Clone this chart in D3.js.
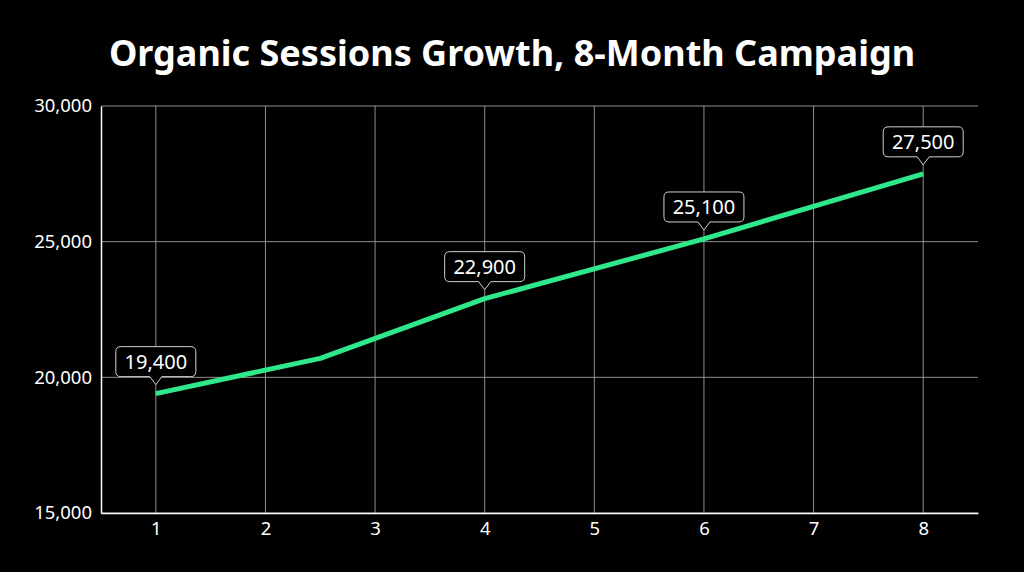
<!DOCTYPE html>
<html>
<head>
<meta charset="utf-8">
<script src="https://cdn.jsdelivr.net/npm/d3@7"></script>
<style>
  html, body { margin: 0; padding: 0; background: #000; }
  svg { display: block; }
</style>
</head>
<body>
<div id="chart"></div>
<script>
// data
const months = [1, 2.5, 4, 6, 8];
const sessions = [19400, 20700, 22900, 25100, 27500];
const labelled = [1, 4, 6, 8];
const xTicks = [1, 2, 3, 4, 5, 6, 7, 8];
const yTicks = [15000, 20000, 25000, 30000];
const title = 'Organic Sessions Growth, 8-Month Campaign';

const width = 1024;
const height = 572;
const margin = { top: 106, right: 46, bottom: 59, left: 101 };
const font = '"Noto Sans", "Open Sans", sans-serif';

const svg = d3.select('#chart')
  .append('svg')
  .attr('width', width)
  .attr('height', height)
  .style('background', '#000');

// scales
const x = d3.scaleLinear()
  .domain([0.5, 8.5])
  .range([margin.left, width - margin.right]);

const y = d3.scaleLinear()
  .domain([15000, 30000])
  .range([height - margin.bottom, margin.top]);

// title
svg.append('text')
  .attr('x', width / 2)
  .attr('y', 66)
  .attr('text-anchor', 'middle')
  .style('font-family', font)
  .style('font-weight', 'bold')
  .style('font-size', '36px')
  .style('fill', '#fff')
  .text(title);

// grid lines
const grid = svg.append('g');
grid.selectAll('.vgrid')
  .data(xTicks)
  .enter()
  .append('line')
  .attr('x1', d => x(d))
  .attr('x2', d => x(d))
  .attr('y1', y(30000))
  .attr('y2', y(15000))
  .attr('stroke', '#8f8f8f')
  .attr('stroke-width', 1);

grid.selectAll('.hgrid')
  .data(yTicks)
  .enter()
  .append('line')
  .attr('x1', x(0.5))
  .attr('x2', x(8.5))
  .attr('y1', d => y(d))
  .attr('y2', d => y(d))
  .attr('stroke', '#8f8f8f')
  .attr('stroke-width', 1);

// axes
const xAxis = svg.append('g')
  .attr('transform', `translate(0, ${height - margin.bottom})`)
  .call(d3.axisBottom(x).tickValues(xTicks).tickSize(0).tickPadding(9).tickFormat(d3.format('d')));

const yAxis = svg.append('g')
  .attr('transform', `translate(${margin.left}, 0)`)
  .call(d3.axisLeft(y).tickValues(yTicks).tickSize(0).tickPadding(9).tickFormat(d3.format(',')));

[xAxis, yAxis].forEach(axis => {
  axis.attr('font-size', 18.5).attr('font-family', font);
  axis.select('.domain').attr('stroke', '#fff').attr('stroke-width', 1.5);
  axis.selectAll('text').attr('fill', '#fff');
});

// line
const line = d3.line()
  .x((d, i) => x(months[i]))
  .y(d => y(d));

svg.append('path')
  .datum(sessions)
  .attr('d', line)
  .attr('fill', 'none')
  .attr('stroke', '#2ee88b')
  .attr('stroke-width', 5)
  .attr('stroke-linejoin', 'round');

// callout labels
const callouts = months
  .map((m, i) => ({ m, v: sessions[i] }))
  .filter(d => labelled.includes(d.m));

const boxW = 80;
const boxH = 30;
const gap = 9;
const tip = 8;

const callout = svg.selectAll('.callout')
  .data(callouts)
  .enter()
  .append('g')
  .attr('transform', d => `translate(${x(d.m)}, ${y(d.v)})`);

callout.append('path')
  .attr('d', () => {
    const r = 5;
    const top = -gap - tip - boxH;
    const bottom = -gap - tip;
    const l = -boxW / 2;
    const rt = boxW / 2;
    return `M${l + r},${top}` +
      `H${rt - r}Q${rt},${top} ${rt},${top + r}` +
      `V${bottom - r}Q${rt},${bottom} ${rt - r},${bottom}` +
      `H6L0,${-gap}L-6,${bottom}` +
      `H${l + r}Q${l},${bottom} ${l},${bottom - r}` +
      `V${top + r}Q${l},${top} ${l + r},${top}Z`;
  })
  .attr('fill', '#000')
  .attr('stroke', '#d0d0d0')
  .attr('stroke-width', 1);

callout.append('text')
  .attr('x', 0)
  .attr('y', -gap - tip - boxH / 2 + 7)
  .attr('text-anchor', 'middle')
  .style('font-family', font)
  .style('font-size', '20px')
  .style('fill', '#fff')
  .text(d => d3.format(',')(d.v));
</script>
</body>
</html>
